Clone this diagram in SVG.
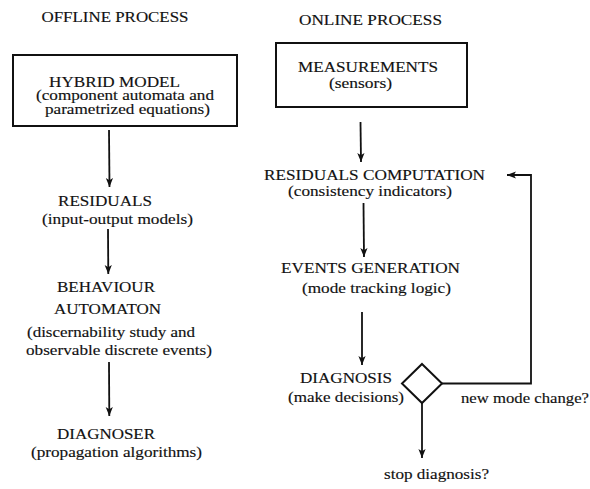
<svg xmlns="http://www.w3.org/2000/svg" width="590" height="489" viewBox="0 0 590 489">
  <style>
    text { font-family: 'Liberation Serif', 'Times New Roman', serif; font-size: 15px; fill: #111; stroke: #111; stroke-width: 0.15; }
    .tight { font-size: 14px; }
    .box { fill: #fff; stroke: #111; stroke-width: 2; }
    .edge { fill: none; stroke: #111; stroke-width: 1.8; }
  </style>
  <defs>
    <marker id="arrow" viewBox="0 0 10 10" refX="10" refY="5" markerWidth="5" markerHeight="5" orient="auto" markerUnits="strokeWidth">
      <path d="M0,1 L10,5 L0,9 L2.5,5 Z" fill="#111"/>
    </marker>
  </defs>
  <rect width="590" height="489" fill="#fff"/>

  <!-- column headings -->
  <g id="offline-title"><text x="41.5" y="21.5" textLength="147" lengthAdjust="spacingAndGlyphs">OFFLINE PROCESS</text></g>
  <g id="online-title"><text x="299" y="25" textLength="143" lengthAdjust="spacingAndGlyphs">ONLINE PROCESS</text></g>

  <!-- offline chain -->
  <g id="hybrid-model">
    <rect class="box" x="13" y="55" width="224" height="71"/>
    <text class="tight" x="49" y="86.5" textLength="131" lengthAdjust="spacingAndGlyphs">HYBRID MODEL</text>
    <text class="tight" x="36" y="100" textLength="178" lengthAdjust="spacingAndGlyphs">(component automata and</text>
    <text class="tight" x="45" y="114" textLength="165" lengthAdjust="spacingAndGlyphs">parametrized equations)</text>
  </g>
  <g id="residuals">
    <text x="58" y="206" textLength="94" lengthAdjust="spacingAndGlyphs">RESIDUALS</text>
    <text x="42" y="224" textLength="151" lengthAdjust="spacingAndGlyphs">(input-output models)</text>
  </g>
  <g id="behaviour-automaton">
    <text x="57" y="292" textLength="98" lengthAdjust="spacingAndGlyphs">BEHAVIOUR</text>
    <text x="54" y="314" textLength="107" lengthAdjust="spacingAndGlyphs">AUTOMATON</text>
    <text x="27" y="337" textLength="168" lengthAdjust="spacingAndGlyphs">(discernability study and</text>
    <text x="26" y="355" textLength="186" lengthAdjust="spacingAndGlyphs">observable discrete events)</text>
  </g>
  <g id="diagnoser">
    <text x="57" y="439" textLength="98" lengthAdjust="spacingAndGlyphs">DIAGNOSER</text>
    <text x="31" y="457" textLength="171" lengthAdjust="spacingAndGlyphs">(propagation algorithms)</text>
  </g>

  <!-- online chain -->
  <g id="measurements">
    <rect class="box" x="276" y="43" width="191" height="64"/>
    <text x="298" y="72" textLength="140" lengthAdjust="spacingAndGlyphs">MEASUREMENTS</text>
    <text x="329" y="88" textLength="63" lengthAdjust="spacingAndGlyphs">(sensors)</text>
  </g>
  <g id="residuals-computation">
    <text x="264" y="179.5" textLength="221" lengthAdjust="spacingAndGlyphs">RESIDUALS COMPUTATION</text>
    <text x="288" y="195.5" textLength="164" lengthAdjust="spacingAndGlyphs">(consistency indicators)</text>
  </g>
  <g id="events-generation">
    <text x="281" y="273" textLength="179" lengthAdjust="spacingAndGlyphs">EVENTS GENERATION</text>
    <text x="302" y="293" textLength="149" lengthAdjust="spacingAndGlyphs">(mode tracking logic)</text>
  </g>
  <g id="diagnosis">
    <text x="300" y="383" textLength="92" lengthAdjust="spacingAndGlyphs">DIAGNOSIS</text>
    <text x="288" y="402" textLength="116" lengthAdjust="spacingAndGlyphs">(make decisions)</text>
  </g>
  <g id="decision">
    <polygon class="box" points="422,364 442,383.5 422,403 402,383.5"/>
  </g>
  <g id="new-mode-change"><text x="461" y="403" textLength="128" lengthAdjust="spacingAndGlyphs">new mode change?</text></g>
  <g id="stop-diagnosis"><text x="384" y="479" textLength="105" lengthAdjust="spacingAndGlyphs">stop diagnosis?</text></g>

  <!-- connectors -->
  <g id="connectors">
    <line class="edge" x1="109" y1="130" x2="109.5" y2="187" marker-end="url(#arrow)"/>
    <line class="edge" x1="108" y1="229" x2="108.3" y2="274" marker-end="url(#arrow)"/>
    <line class="edge" x1="109" y1="362" x2="109.3" y2="416" marker-end="url(#arrow)"/>
    <line class="edge" x1="360.5" y1="122" x2="361" y2="162" marker-end="url(#arrow)"/>
    <line class="edge" x1="363.5" y1="203" x2="364" y2="257" marker-end="url(#arrow)"/>
    <line class="edge" x1="362" y1="312" x2="362" y2="365" marker-end="url(#arrow)"/>
    <polyline class="edge" points="442,383.5 531,383.5 531,175 507,175" marker-end="url(#arrow)"/>
    <line class="edge" x1="422" y1="403" x2="422" y2="458" marker-end="url(#arrow)"/>
  </g>
</svg>
